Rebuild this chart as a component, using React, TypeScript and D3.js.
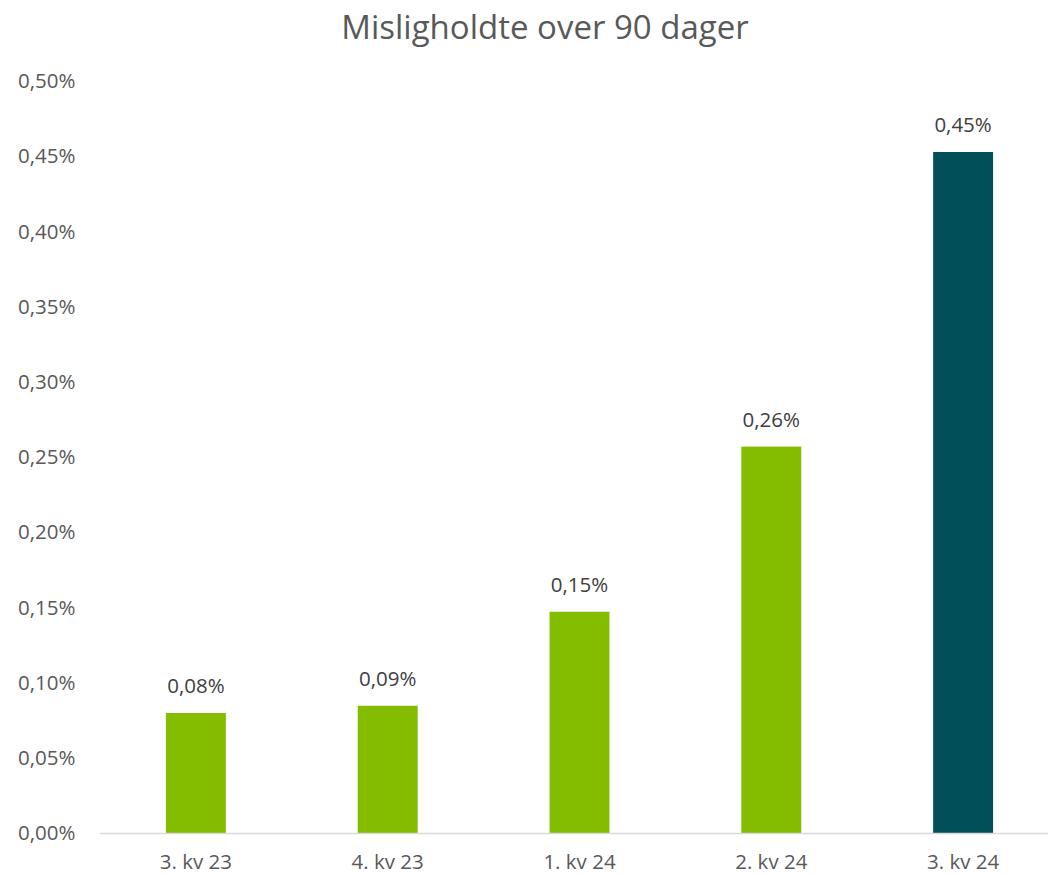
import React from "react";
import * as d3 from "d3";

const categories = ["3. kv 23", "4. kv 23", "1. kv 24", "2. kv 24", "3. kv 24"];
const values = [0.0798, 0.0846, 0.1471, 0.2569, 0.4528];
const labels = ["0,08%", "0,09%", "0,15%", "0,26%", "0,45%"];
const barColors = ["#84BD00", "#84BD00", "#84BD00", "#84BD00", "#004F59"];
const yTicks = [0, 0.05, 0.1, 0.15, 0.2, 0.25, 0.3, 0.35, 0.4, 0.45, 0.5];
const title = "Misligholdte over 90 dager";

const W = 1048;
const H = 875;
const FONT = "'Open Sans', 'DejaVu Sans', sans-serif";

export default function App() {
  const x = d3.scaleBand<string>().domain(categories).range([100, 1059]).paddingInner(0.6875).paddingOuter(0.34375);
  const y = d3.scaleLinear().domain([0, 0.5]).range([833, 81]);
  const fmt = (v: number) => v.toFixed(2).replace(".", ",") + "%";
  return (
    <svg width={W} height={H} style={{ position: "absolute", left: 0, top: 0, background: "#fff" }} fontFamily={FONT}>
      <rect x={0} y={0} width={W} height={H} fill="#fff" />
      <text x={545} y={38.5} textAnchor="middle" fontSize={33} fill="#595959">{title}</text>
      {yTicks.map((t) => (
        <text key={t} x={18} y={y(t)} dy="0.35em" fontSize={20.5} fill="#595959">{fmt(t)}</text>
      ))}
      {categories.map((c, i) => (
        <g key={c}>
          <rect x={x(c)} y={y(values[i])} width={x.bandwidth()} height={y(0) - y(values[i])} fill={barColors[i]} />
          <text x={(x(c) as number) + x.bandwidth() / 2} y={y(values[i]) - 20} textAnchor="middle" fontSize={20.5} fill="#404040">{labels[i]}</text>
          <text x={(x(c) as number) + x.bandwidth() / 2} y={869} textAnchor="middle" fontSize={20.5} fill="#595959">{c}</text>
        </g>
      ))}
      <line x1={100} x2={W} y1={y(0) + 0.5} y2={y(0) + 0.5} stroke="#D9D9D9" strokeWidth={1.5} />
    </svg>
  );
}
